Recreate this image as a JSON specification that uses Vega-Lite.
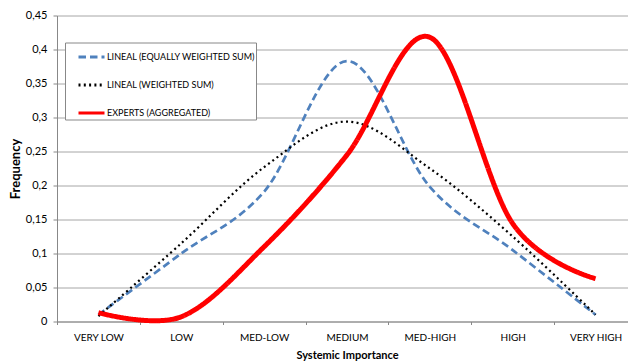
{
  "$schema": "https://vega.github.io/schema/vega-lite/v6.json",
  "width": 571,
  "height": 306,
  "autosize": {"type": "none"},
  "padding": {"left": 57, "top": 15.5, "right": 0, "bottom": 40.5},
  "background": "white",
  "config": {
    "font": "Lato",
    "view": {"stroke": null},
    "axis": {
      "labelFont": "Lato",
      "labelColor": "#000000",
      "titleFont": "Lato",
      "titleColor": "#000000",
      "domainColor": "#888888",
      "tickColor": "#888888",
      "gridColor": "#a6a6a6",
      "tickSize": 4
    }
  },
  "data": {
    "values": [
      {"series": "LINEAL (EQUALLY WEIGHTED SUM)", "importance": "VERY LOW", "frequency": 0.010},
      {"series": "LINEAL (EQUALLY WEIGHTED SUM)", "importance": "LOW", "frequency": 0.100},
      {"series": "LINEAL (EQUALLY WEIGHTED SUM)", "importance": "MED-LOW", "frequency": 0.191},
      {"series": "LINEAL (EQUALLY WEIGHTED SUM)", "importance": "MEDIUM", "frequency": 0.383},
      {"series": "LINEAL (EQUALLY WEIGHTED SUM)", "importance": "MED-HIGH", "frequency": 0.198},
      {"series": "LINEAL (EQUALLY WEIGHTED SUM)", "importance": "HIGH", "frequency": 0.105},
      {"series": "LINEAL (EQUALLY WEIGHTED SUM)", "importance": "VERY HIGH", "frequency": 0.010},
      {"series": "LINEAL (WEIGHTED SUM)", "importance": "VERY LOW", "frequency": 0.008},
      {"series": "LINEAL (WEIGHTED SUM)", "importance": "LOW", "frequency": 0.115},
      {"series": "LINEAL (WEIGHTED SUM)", "importance": "MED-LOW", "frequency": 0.227},
      {"series": "LINEAL (WEIGHTED SUM)", "importance": "MEDIUM", "frequency": 0.294},
      {"series": "LINEAL (WEIGHTED SUM)", "importance": "MED-HIGH", "frequency": 0.225},
      {"series": "LINEAL (WEIGHTED SUM)", "importance": "HIGH", "frequency": 0.125},
      {"series": "LINEAL (WEIGHTED SUM)", "importance": "VERY HIGH", "frequency": 0.010},
      {"series": "EXPERTS (AGGREGATED)", "importance": "VERY LOW", "frequency": 0.013},
      {"series": "EXPERTS (AGGREGATED)", "importance": "LOW", "frequency": 0.007},
      {"series": "EXPERTS (AGGREGATED)", "importance": "MED-LOW", "frequency": 0.110},
      {"series": "EXPERTS (AGGREGATED)", "importance": "MEDIUM", "frequency": 0.245},
      {"series": "EXPERTS (AGGREGATED)", "importance": "MED-HIGH", "frequency": 0.418},
      {"series": "EXPERTS (AGGREGATED)", "importance": "HIGH", "frequency": 0.144},
      {"series": "EXPERTS (AGGREGATED)", "importance": "VERY HIGH", "frequency": 0.063}
    ]
  },
  "mark": {"type": "line", "interpolate": "cardinal", "clip": false},
  "encoding": {
    "x": {
      "field": "importance",
      "type": "ordinal",
      "sort": ["VERY LOW", "LOW", "MED-LOW", "MEDIUM", "MED-HIGH", "HIGH", "VERY HIGH"],
      "scale": {"type": "band", "range": [0, 580], "paddingInner": 0, "paddingOuter": 0},
      "axis": {
        "title": "Systemic Importance",
        "titleFontSize": 11,
        "titleFontWeight": "bold",
        "titlePadding": 7,
        "labelFontSize": 10,
        "labelAngle": 0,
        "labelPadding": 8,
        "tickBand": "extent",
        "tickSize": 3,
        "grid": false
      }
    },
    "y": {
      "field": "frequency",
      "type": "quantitative",
      "scale": {"domain": [0, 0.45], "nice": false, "zero": true},
      "axis": {
        "title": "Frequency",
        "titleFontSize": 13,
        "titleFontWeight": "bold",
        "titlePadding": 3,
        "values": [0, 0.05, 0.1, 0.15, 0.2, 0.25, 0.3, 0.35, 0.4, 0.45],
        "labelExpr": "replace(format(datum.value, '.2~f'), '.', ',')",
        "labelFontSize": 11,
        "labelPadding": 6,
        "grid": true
      }
    },
    "color": {
      "field": "series",
      "type": "nominal",
      "scale": {
        "domain": ["LINEAL (EQUALLY WEIGHTED SUM)", "LINEAL (WEIGHTED SUM)", "EXPERTS (AGGREGATED)"],
        "range": ["#4f81bd", "#000000", "#ff0000"]
      },
      "legend": {
        "title": null,
        "orient": "none",
        "legendX": 8,
        "legendY": 27,
        "padding": 0,
        "symbolOffset": 12,
        "symbolType": "stroke",
        "symbolSize": 676,
        "symbolStrokeWidth": 3,
        "rowPadding": 7,
        "labelOffset": 1,
        "labelFont": "Lato",
        "labelFontSize": 9,
        "labelColor": "#000000",
        "strokeColor": "#888888",
        "fillColor": "#ffffff"
      }
    },
    "strokeDash": {
      "field": "series",
      "type": "nominal",
      "scale": {
        "domain": ["LINEAL (EQUALLY WEIGHTED SUM)", "LINEAL (WEIGHTED SUM)", "EXPERTS (AGGREGATED)"],
        "range": [[7.5, 4], [2, 3.3], [1, 0]]
      }
    },
    "strokeWidth": {
      "condition": [
        {"test": "datum.series === 'EXPERTS (AGGREGATED)'", "value": 5},
        {"test": "datum.series === 'LINEAL (WEIGHTED SUM)'", "value": 2.2}
      ],
      "value": 2.7
    }
  }
}
